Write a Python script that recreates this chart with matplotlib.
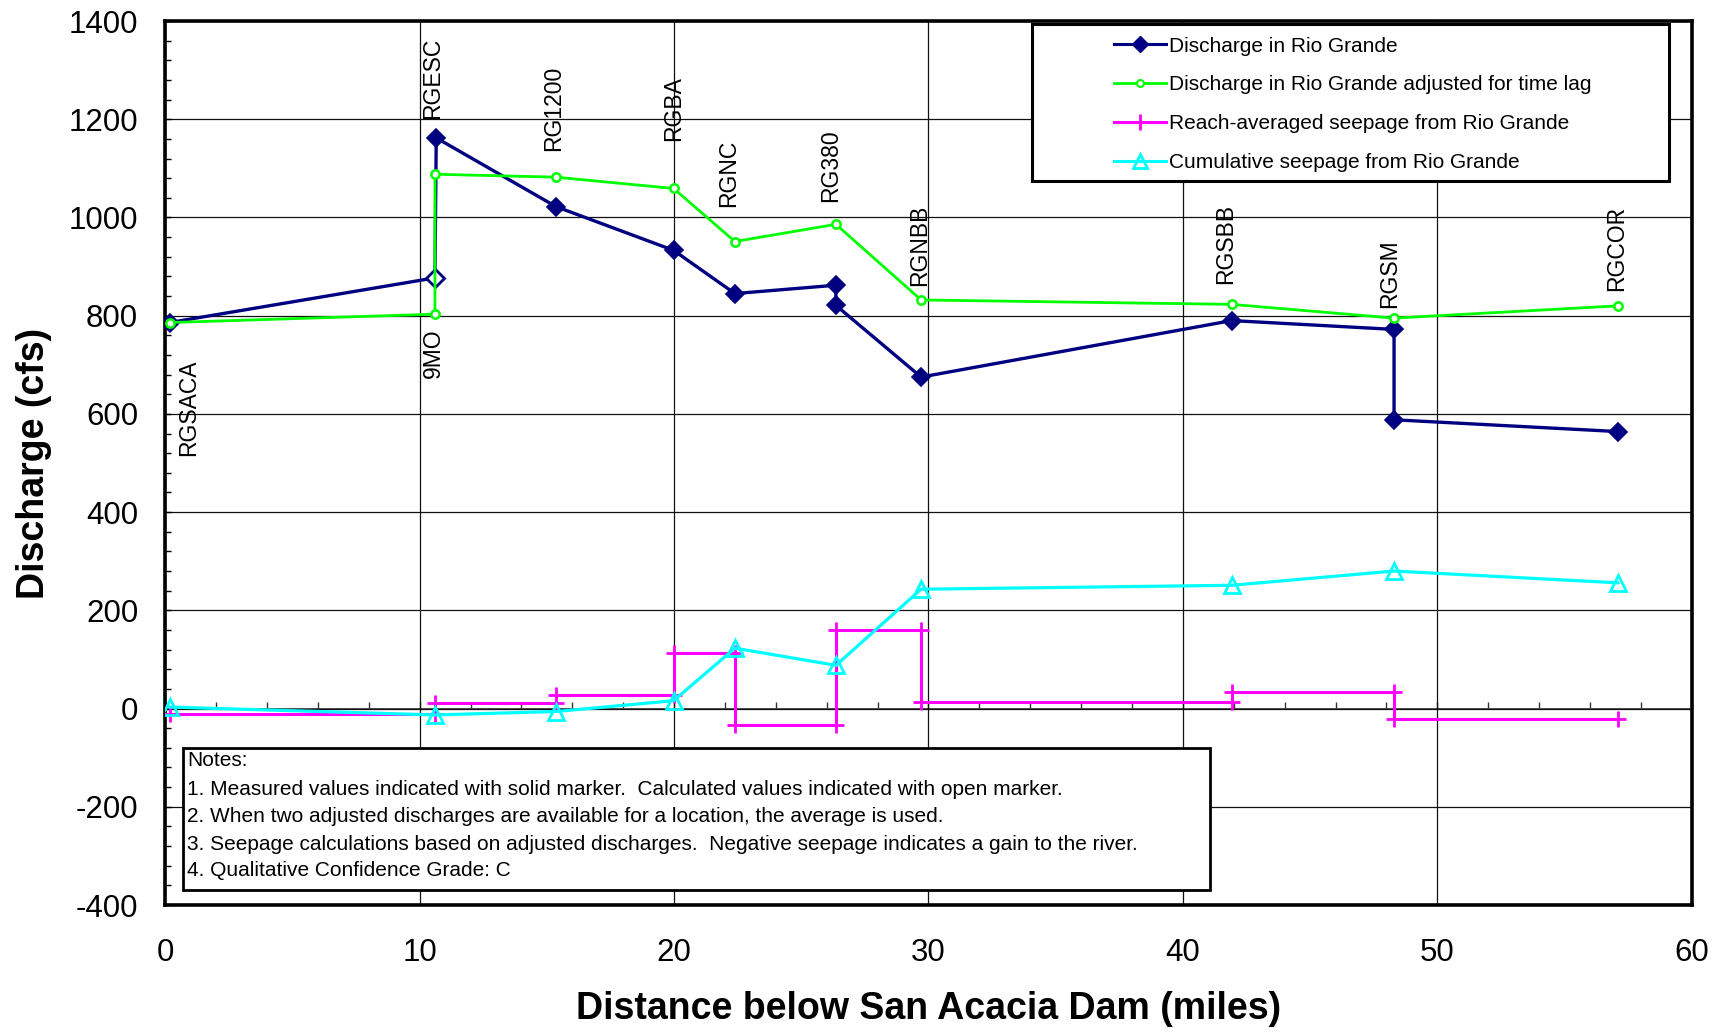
import matplotlib
matplotlib.use("Agg")
import matplotlib.pyplot as plt
from matplotlib.lines import Line2D
from matplotlib.patches import Rectangle
from matplotlib.ticker import MultipleLocator

plt.rcParams['font.family'] = ['Liberation Sans', 'DejaVu Sans']
plt.rcParams['axes.unicode_minus'] = False

# ---------------- data ----------------
# Discharge in Rio Grande (measured; index 1 is calculated -> open marker)
q_x = [0.17, 10.6, 10.65, 15.36, 19.98, 22.39, 26.36, 26.36, 29.71, 41.92, 48.30, 48.30, 57.10]
q_y = [786, 877, 1162, 1022, 933, 845, 862, 821, 675, 790, 772, 588, 564]
q_open = [1]

# Discharge adjusted for time lag
adj_x = [0.17, 10.6, 10.6, 15.36, 19.98, 22.39, 26.36, 29.71, 41.92, 48.30, 57.10]
adj_y = [786, 803, 1088, 1082, 1059, 951, 986, 832, 823, 795, 820]

# Reach-averaged seepage (reach boundaries and value per reach)
reach_bounds = [0.17, 10.6, 15.36, 19.98, 22.39, 26.36, 29.71, 41.92, 48.30, 57.10]
reach_seep = [-12, 11, 28, 114, -33, 159, 13, 34, -22]

# Cumulative seepage
cum_x = [0.17, 10.6, 15.36, 19.98, 22.39, 26.36, 29.71, 41.92, 48.30, 57.10]
cum_y = [3, -13, -6, 16, 123, 88, 243, 251, 280, 256]

# Station labels
stations = ["RGSACA", "9MO", "RGESC", "RG1200", "RGBA", "RGNC", "RG380", "RGNBB", "RGSBB", "RGSM", "RGCOR"]
label_x = [0.9, 10.55, 10.5, 15.26, 19.97, 22.14, 26.16, 29.66, 41.68, 48.12, 57.03]
label_y = [710, 775, 1200, 1135, 1156, 1021, 1032, 860, 865, 815, 851]
label_below = [True, True, False, False, False, False, False, False, False, False, False]

legend_labels = ["Discharge in Rio Grande",
                 "Discharge in Rio Grande adjusted for time lag",
                 "Reach-averaged seepage from Rio Grande",
                 "Cumulative seepage from Rio Grande"]

notes = ["Notes:",
         "1. Measured values indicated with solid marker.  Calculated values indicated with open marker.",
         "2. When two adjusted discharges are available for a location, the average is used.",
         "3. Seepage calculations based on adjusted discharges.  Negative seepage indicates a gain to the river.",
         "4. Qualitative Confidence Grade: C"]

NAVY = "#000080"
GREEN = "#00FF00"
MAGENTA = "#FF00FF"
CYAN = "#00FFFF"

# ---------------- figure ----------------
fig = plt.figure(figsize=(17.24, 10.34), dpi=100)
ax = fig.add_axes([165.3 / 1724, 1 - 905 / 1034, 1526.4 / 1724, 884 / 1034])

ax.set_xlim(0, 60)
ax.set_ylim(-400, 1400)
ax.xaxis.set_major_locator(MultipleLocator(10))
ax.yaxis.set_major_locator(MultipleLocator(200))
ax.yaxis.set_minor_locator(MultipleLocator(40))
ax.grid(True, which='major', color='#111111', linewidth=0.9)
ax.set_axisbelow(True)

for s in ax.spines.values():
    s.set_linewidth(2.6)
    s.set_color('black')

ax.tick_params(axis='x', which='both', length=0, labelsize=22.5, pad=23.5)
ax.tick_params(axis='y', which='both', direction='in', length=4.5, width=1,
               labelsize=22.5, pad=19.5)

# x axis line at zero with minor ticks
sec = ax.secondary_xaxis(400 / 1800)
sec.spines['bottom'].set_color('#444444')
sec.spines['bottom'].set_linewidth(1.3)
sec.xaxis.set_major_locator(MultipleLocator(2))
sec.tick_params(axis='x', direction='in', length=5, width=1, labelbottom=False, color='#333333')

# seepage step series
seep_x, seep_y = [], []
for i, v in enumerate(reach_seep):
    seep_x += [reach_bounds[i], reach_bounds[i + 1]]
    seep_y += [v, v]
ax.plot(seep_x, seep_y, color=MAGENTA, lw=2.2, marker='+', markersize=12,
        markeredgewidth=2, zorder=3)

# cumulative seepage
ax.plot(cum_x, cum_y, color=CYAN, lw=2.3, marker='^', markersize=11,
        markerfacecolor='none', markeredgecolor=CYAN, markeredgewidth=2, zorder=4)

# discharge
ax.plot(q_x, q_y, color=NAVY, lw=2.4, zorder=5)
solid = [i for i in range(len(q_x)) if i not in q_open]
ax.plot([q_x[i] for i in solid], [q_y[i] for i in solid], ls='none', marker='D',
        markersize=9, color=NAVY, markeredgewidth=1.2, zorder=6)
ax.plot([q_x[i] for i in q_open], [q_y[i] for i in q_open], ls='none', marker='D',
        markersize=9, markerfacecolor='white', markeredgecolor=NAVY,
        markeredgewidth=2, zorder=6)

# adjusted discharge
ax.plot(adj_x, adj_y, color=GREEN, lw=2.0, marker='o', markersize=6,
        markerfacecolor='white', markeredgecolor=GREEN, markeredgewidth=1.8, zorder=7)

# station labels
for name, lx, ly, below in zip(stations, label_x, label_y, label_below):
    ax.text(lx, ly, name, rotation=90, ha='center', va='top' if below else 'bottom',
            fontsize=16.5, zorder=8)

# axis labels
ax.set_xlabel("Distance below San Acacia Dam (miles)", fontsize=27, fontweight='bold', labelpad=17)
ax.set_ylabel("Discharge (cfs)", fontsize=27, fontweight='bold', labelpad=12)

# legend box
lx0, lx1 = (1032 - 165.3) / 1526.4, (1669 - 165.3) / 1526.4
ly0, ly1 = (905 - 181) / 884, (905 - 24) / 884
ax.add_patch(Rectangle((lx0, ly0), lx1 - lx0, ly1 - ly0, transform=ax.transAxes,
                       facecolor='white', edgecolor='black', linewidth=2.2, zorder=9))
handles = [
    Line2D([], [], color=NAVY, lw=2.2, marker='D', markersize=8),
    Line2D([], [], color=GREEN, lw=2.0, marker='o', markersize=5, markerfacecolor='white',
           markeredgewidth=1.5),
    Line2D([], [], color=MAGENTA, lw=2.2, marker='+', markersize=12, markeredgewidth=2),
    Line2D([], [], color=CYAN, lw=2.2, marker='^', markersize=10, markerfacecolor='none',
           markeredgewidth=2),
]
leg = ax.legend(handles, legend_labels, loc='upper left',
                bbox_to_anchor=((1114 - 165.3) / 1526.4, (905 - 36.5) / 884),
                frameon=False, fontsize=15, handlelength=2.5, handletextpad=0.15,
                labelspacing=0.95, borderpad=0, borderaxespad=0)
leg.set_zorder(10)

# notes box
nx0, nx1 = (183 - 165.3) / 1526.4, (1210.5 - 165.3) / 1526.4
ny0, ny1 = (905 - 890) / 884, (905 - 748) / 884
ax.add_patch(Rectangle((nx0, ny0), nx1 - nx0, ny1 - ny0, transform=ax.transAxes,
                       facecolor='white', edgecolor='black', linewidth=2.0, zorder=9))
note_y = [761, 789.5, 817, 844.5, 871]
for t, py in zip(notes, note_y):
    ax.text((187.5 - 165.3) / 1526.4, (905 - py) / 884, t, transform=ax.transAxes,
            ha='left', va='center', fontsize=15, zorder=10)

fig.savefig("out.png", dpi=100)
